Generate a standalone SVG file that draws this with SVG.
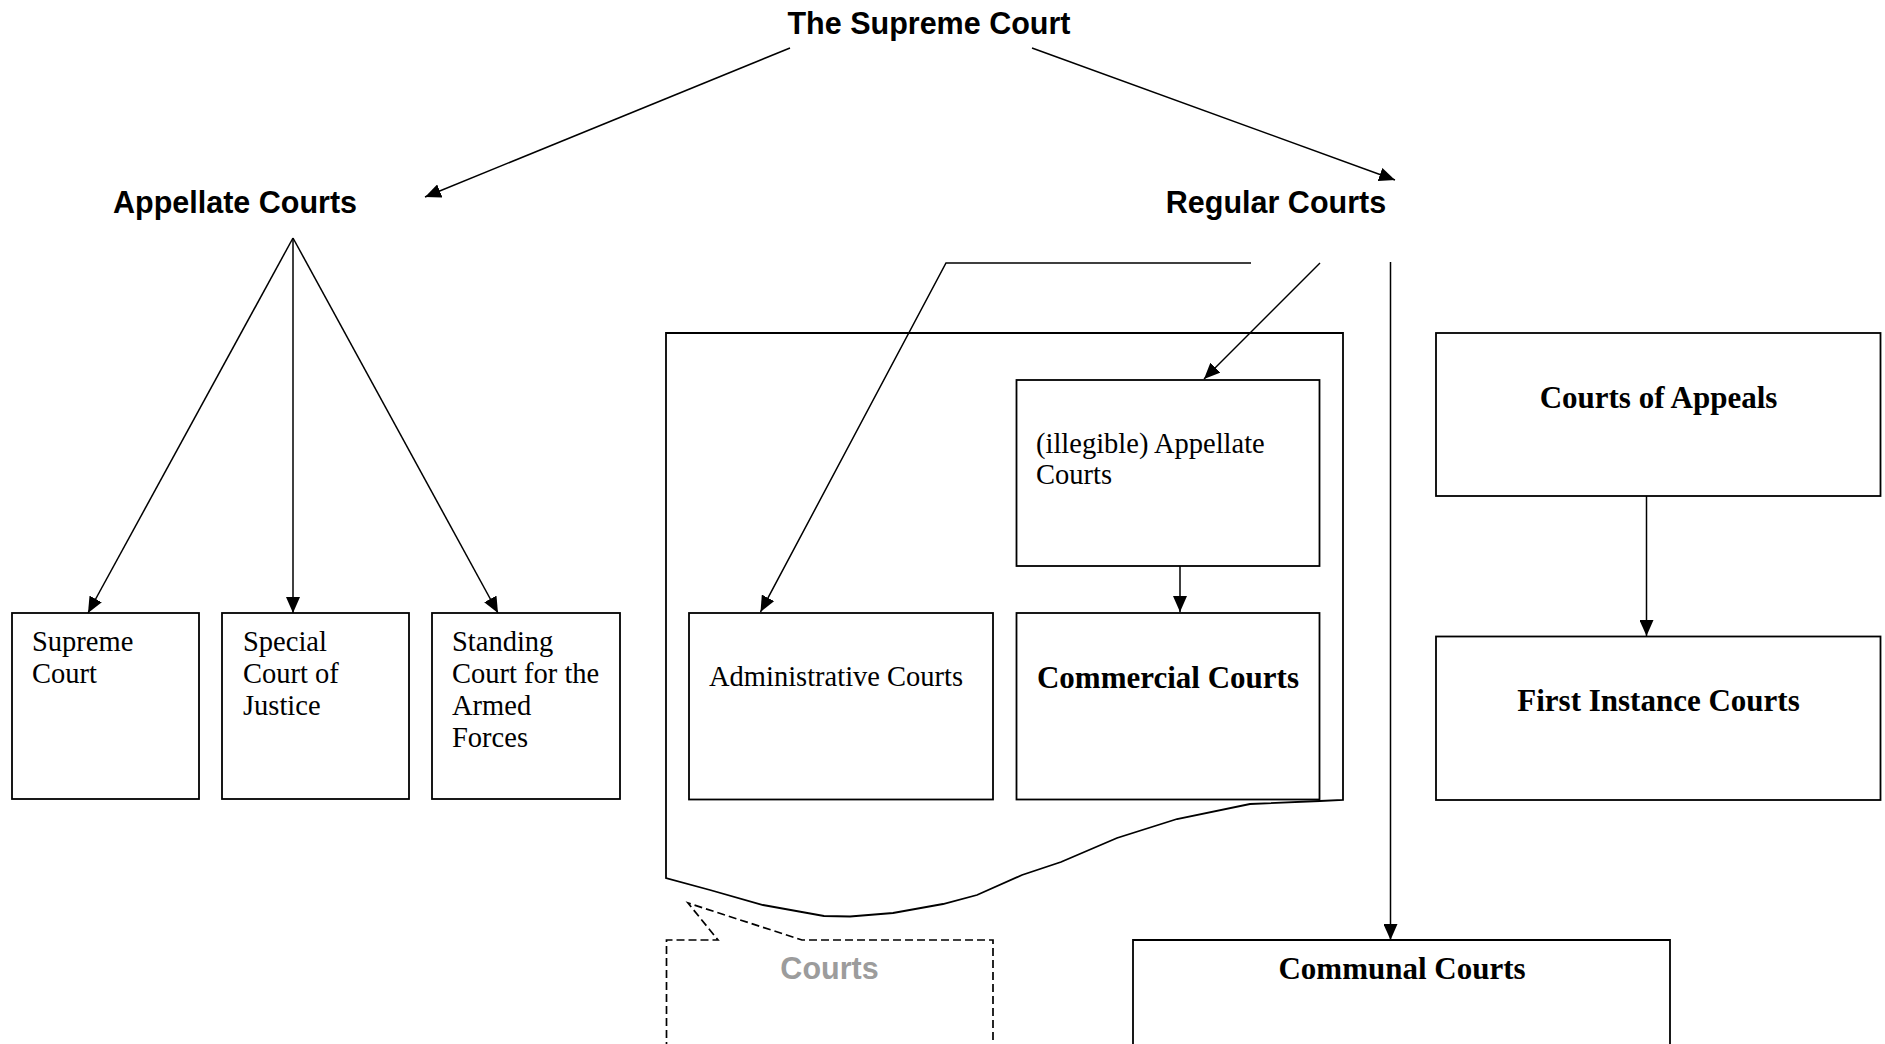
<svg xmlns="http://www.w3.org/2000/svg" width="1885" height="1044" viewBox="0 0 1885 1044">
  <style>
    .box { fill: none; stroke: #000; stroke-width: 1.8; }
    .dash { fill: none; stroke: #000; stroke-width: 1.7; stroke-dasharray: 8 4; }
    .link { fill: none; stroke: #000; stroke-width: 1.5; }
    .head { font-family: "Liberation Sans", Arial, sans-serif; font-weight: bold; font-size: 30.5px; fill: #000; text-anchor: middle; }
    .grey { fill: #9c9c9c; }
    .body { font-family: "Liberation Serif", "Times New Roman", serif; font-size: 28.5px; fill: #000; }
    .bold { font-family: "Liberation Serif", "Times New Roman", serif; font-weight: bold; font-size: 31px; fill: #000; text-anchor: middle; }
  </style>
  <defs>
    <marker id="arrow" markerUnits="userSpaceOnUse" markerWidth="16" markerHeight="14" refX="16" refY="7" orient="auto">
      <path d="M0,0 L16,7 L0,14 Z" fill="#000"/>
    </marker>
  </defs>
  <rect width="1885" height="1044" fill="#fff"/>

  <!-- connectors -->
  <g id="connectors">
    <line class="link" x1="790" y1="48" x2="425" y2="197" marker-end="url(#arrow)"/>
    <line class="link" x1="1032" y1="48" x2="1395" y2="180" marker-end="url(#arrow)"/>
    <line class="link" x1="293" y1="238" x2="88" y2="613" marker-end="url(#arrow)"/>
    <line class="link" x1="293" y1="238" x2="293" y2="613" marker-end="url(#arrow)"/>
    <line class="link" x1="293" y1="238" x2="498" y2="613" marker-end="url(#arrow)"/>
    <polyline class="link" points="1251,263 946,263 760.5,612" marker-end="url(#arrow)"/>
    <line class="link" x1="1320" y1="263" x2="1204" y2="379" marker-end="url(#arrow)"/>
    <line class="link" x1="1180" y1="566" x2="1180" y2="612" marker-end="url(#arrow)"/>
    <line class="link" x1="1390.5" y1="262" x2="1390.5" y2="940" marker-end="url(#arrow)"/>
    <line class="link" x1="1646.5" y1="496" x2="1646.5" y2="636" marker-end="url(#arrow)"/>
  </g>

  <!-- top level -->
  <g id="supreme-court-top">
    <text class="head" x="929" y="34">The Supreme Court</text>
  </g>
  <g id="appellate-courts">
    <text class="head" x="235" y="213">Appellate Courts</text>
  </g>
  <g id="regular-courts">
    <text class="head" x="1276" y="213">Regular Courts</text>
  </g>

  <!-- appellate branch -->
  <g id="supreme-court">
    <rect class="box" x="12" y="613" width="187" height="186"/>
    <text class="body" x="32" y="651">Supreme</text>
    <text class="body" x="32" y="683">Court</text>
  </g>
  <g id="special-court">
    <rect class="box" x="222" y="613" width="187" height="186"/>
    <text class="body" x="243" y="651">Special</text>
    <text class="body" x="243" y="683">Court of</text>
    <text class="body" x="243" y="715">Justice</text>
  </g>
  <g id="standing-court">
    <rect class="box" x="432" y="613" width="188" height="186"/>
    <text class="body" x="452" y="651">Standing</text>
    <text class="body" x="452" y="683">Court for the</text>
    <text class="body" x="452" y="715">Armed</text>
    <text class="body" x="452" y="747">Forces</text>
  </g>

  <!-- specialised courts container with wavy lower edge -->
  <g id="specialised-group">
    <path class="box" d="M666,878 L666,333 L1343,333 L1343,800 L1320,801 L1250,804 L1177,819 L1117,838 L1061,862 L1022,875 L977,895 L943,904 L893,913 L850,916.5 L824,916 L763,905 L710,890 Z"/>
  </g>
  <g id="illegible-appellate">
    <rect class="box" x="1016.5" y="380" width="303" height="186"/>
    <text class="body" x="1036" y="453">(illegible) Appellate</text>
    <text class="body" x="1036" y="484">Courts</text>
  </g>
  <g id="administrative-courts">
    <rect class="box" x="689" y="613" width="304" height="186.5"/>
    <text class="body" x="709" y="686">Administrative Courts</text>
  </g>
  <g id="commercial-courts">
    <rect class="box" x="1016.5" y="613" width="303" height="186.5"/>
    <text class="bold" x="1168" y="688">Commercial Courts</text>
  </g>

  <!-- dashed callout -->
  <g id="courts-callout">
    <path class="dash" d="M666.5,1050 L666.5,940 L718,940 L688,903 L802,940 L993,940 L993,1050"/>
    <text class="head grey" x="829.5" y="979">Courts</text>
  </g>

  <!-- regular branch -->
  <g id="courts-of-appeals">
    <rect class="box" x="1436" y="333" width="444.5" height="163"/>
    <text class="bold" x="1658.5" y="408">Courts of Appeals</text>
  </g>
  <g id="first-instance-courts">
    <rect class="box" x="1436" y="636.5" width="444.5" height="163.5"/>
    <text class="bold" x="1658.5" y="711">First Instance Courts</text>
  </g>
  <g id="communal-courts">
    <path class="box" d="M1133,1050 L1133,940 L1670,940 L1670,1050"/>
    <text class="bold" x="1402" y="979">Communal Courts</text>
  </g>
</svg>
